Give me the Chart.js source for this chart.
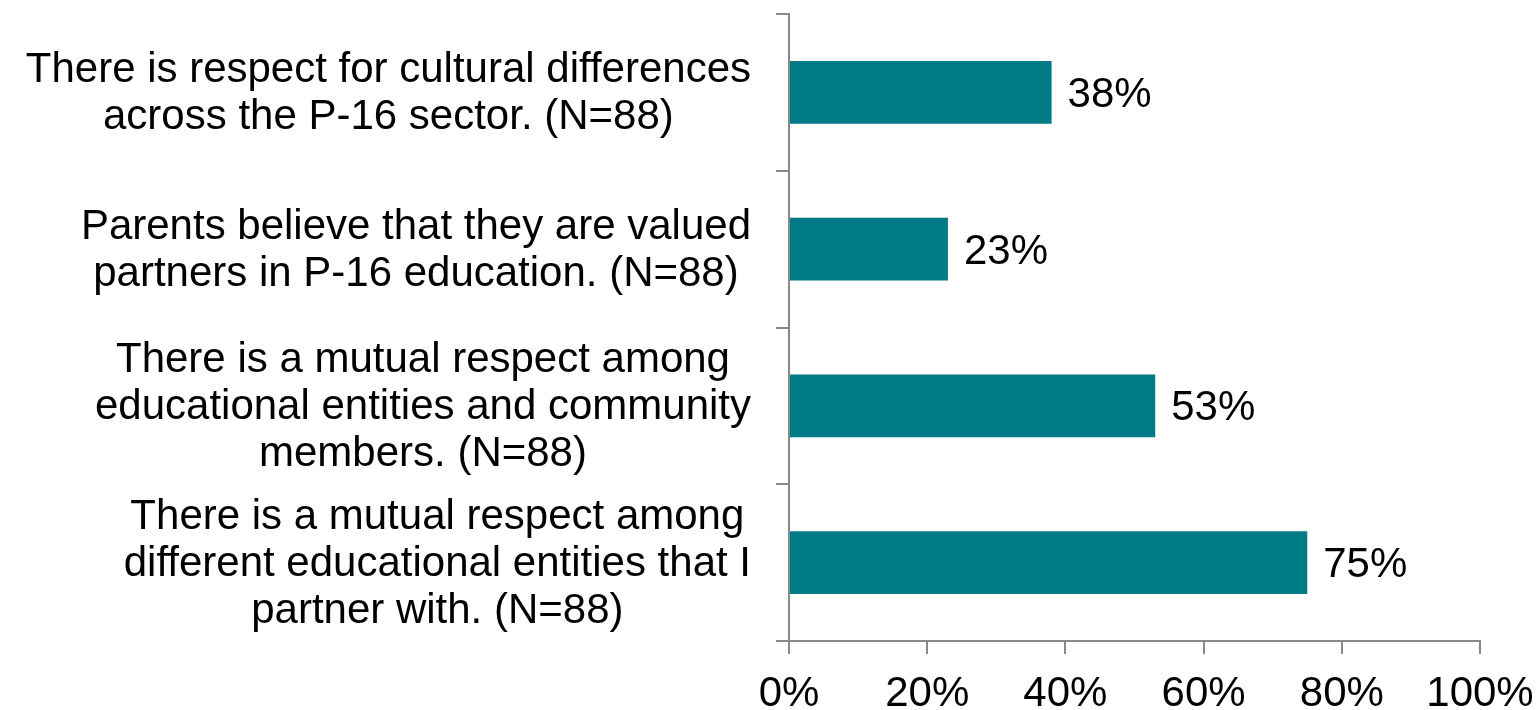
<!DOCTYPE html>
<html>
<head>
<meta charset="utf-8">
<script src="https://cdn.jsdelivr.net/npm/chart.js@4/dist/chart.umd.min.js"></script>
<style>
  html, body { margin: 0; padding: 0; background: #fff; }
  #wrap { width: 1540px; height: 710px; }
</style>
</head>
<body>
<div id="wrap"><canvas id="respectChart"></canvas></div>
<script>
// Survey statements (each line of a label is its own string)
const statements = [
    ['There is respect for cultural differences', 'across the P-16 sector. (N=88)'],
    ['Parents believe that they are valued', 'partners in P-16 education. (N=88)'],
    ['There is a mutual respect among', 'educational entities and community', 'members. (N=88)'],
    ['There is a mutual respect among', 'different educational entities that I', 'partner with. (N=88)']
];
const agreePct = [38, 23, 53, 75];
const pctTicks = [0, 20, 40, 60, 80, 100];

const FONT = '"Liberation Sans", Arial, sans-serif';
const FONT_SIZE = 42;
const AXIS_GREY = '#898989';

// Category labels: each block is centred on itself, widest line ends near the axis
const statementLabels = {
    id: 'statementLabels',
    afterDraw(chart) {
        const ctx = chart.ctx;
        const yScale = chart.scales.y;
        const rightEdge = yScale.right - 38;
        const lineH = 47;
        ctx.save();
        ctx.font = FONT_SIZE + 'px ' + FONT;
        ctx.fillStyle = '#000';
        ctx.textAlign = 'center';
        ctx.textBaseline = 'middle';
        statements.forEach((lines, i) => {
            const maxW = Math.max(...lines.map(l => ctx.measureText(l).width));
            const cx = rightEdge - maxW / 2;
            const cy = yScale.getPixelForTick(i) + 2;
            lines.forEach((line, j) => {
                const y = cy + (j - (lines.length - 1) / 2) * lineH;
                ctx.fillText(line, cx, y);
            });
        });
        ctx.restore();
    }
};

// Value labels just past the end of each bar
const valueLabels = {
    id: 'valueLabels',
    afterDatasetsDraw(chart) {
        const ctx = chart.ctx;
        const meta = chart.getDatasetMeta(0);
        ctx.save();
        ctx.font = FONT_SIZE + 'px ' + FONT;
        ctx.fillStyle = '#000';
        ctx.textAlign = 'left';
        ctx.textBaseline = 'middle';
        meta.data.forEach((bar, i) => {
            ctx.fillText(agreePct[i] + '%', bar.x + 16, bar.y + 3);
        });
        ctx.restore();
    }
};

const ctx = document.getElementById('respectChart').getContext('2d');
const respectChart = new Chart(ctx, {
    type: 'bar',
    data: {
        labels: statements,
        datasets: [{
            data: agreePct,
            backgroundColor: '#007A86',
            borderWidth: 0,
            categoryPercentage: 1,
            barPercentage: 0.4
        }]
    },
    options: {
        indexAxis: 'y',
        responsive: true,
        maintainAspectRatio: false,
        animation: false,
        layout: { padding: { top: 14, right: 60, bottom: 0, left: 0 } },
        plugins: {
            legend: { display: false },
            tooltip: { enabled: false }
        },
        scales: {
            x: {
                min: 0,
                max: 100,
                afterBuildTicks(scale) {
                    scale.ticks = pctTicks.map(v => ({ value: v }));
                },
                afterFit(scale) {
                    scale.height = 69;
                    scale.paddingLeft = 0;
                    scale.paddingRight = 0;
                },
                ticks: {
                    color: '#000',
                    font: { family: FONT, size: FONT_SIZE },
                    padding: 15,
                    callback: v => v + '%'
                },
                grid: {
                    drawOnChartArea: false,
                    tickLength: 13,
                    color: AXIS_GREY,
                    lineWidth: 2
                },
                border: { color: AXIS_GREY, width: 2 }
            },
            y: {
                afterFit(scale) { scale.width = 789; },
                ticks: { display: false },
                grid: {
                    offset: true,
                    drawOnChartArea: false,
                    tickLength: 13,
                    color: AXIS_GREY,
                    lineWidth: 2
                },
                border: { color: AXIS_GREY, width: 2 }
            }
        }
    },
    plugins: [statementLabels, valueLabels]
});
</script>
</body>
</html>
